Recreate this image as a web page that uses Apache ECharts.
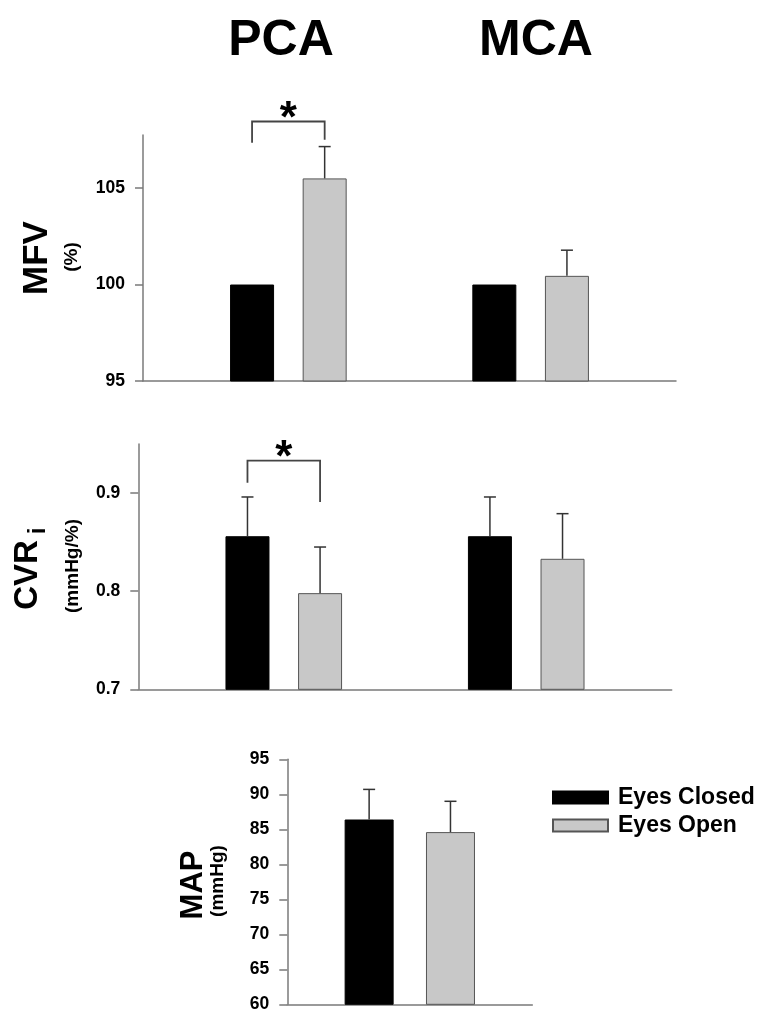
<!DOCTYPE html>
<html>
<head>
<meta charset="utf-8">
<script src="https://cdn.jsdelivr.net/npm/echarts@6/dist/echarts.min.js"></script>
<style>html,body{margin:0;padding:0;background:#fff;}#c{width:771px;height:1032px;}</style>
</head>
<body>
<div id="c"></div>
<script>
// ---------- data ----------
const categories = ['PCA', 'MCA'];
const seriesNames = ['Eyes Closed', 'Eyes Open'];

const mfvClosed = [100, 100];
const mfvClosedErr = [0, 0];
const mfvOpen = [105.5, 100.45];
const mfvOpenErr = [1.65, 1.33];
const mfvTicks = [95, 100, 105];

const cvrClosed = [0.856, 0.856];
const cvrClosedErr = [0.040, 0.040];
const cvrOpen = [0.798, 0.833];
const cvrOpenErr = [0.047, 0.046];
const cvrTicks = [0.7, 0.8, 0.9];

const mapCategories = ['MAP'];
const mapClosed = [86.4];
const mapClosedErr = [4.3];
const mapOpen = [84.6];
const mapOpenErr = [4.4];
const mapTicks = [60, 65, 70, 75, 80, 85, 90, 95];

// significance brackets: category, bracket level, left drop end, right drop end
const mfvSig = [{ cat: 'PCA', level: 108.45, leftEnd: 107.35, rightEnd: 107.5 }];
const cvrSig = [{ cat: 'PCA', level: 0.933, leftEnd: 0.9105, rightEnd: 0.891 }];

// ---------- layout helpers ----------
const SLOTS = 12;            // x axis slots (boundaryGap false)
const slotOf = [3, 8];       // slot index for each category
const FONT = '"Liberation Sans", Arial, sans-serif';
const AXIS_COLOR = '#7a7a7a';
const ERR_COLOR = '#333';
const GRAY = '#c8c8c8';

function slotAxisData() {
  const d = new Array(SLOTS).fill('');
  categories.forEach((c, i) => { d[slotOf[i]] = c; });
  return d;
}
function slotBarData(vals) {
  const d = new Array(SLOTS).fill(null);
  vals.forEach((v, i) => { d[slotOf[i]] = v; });
  return d;
}

function yAxisCfg(gi, min, max, ticks, fmt) {
  return {
    type: 'value', gridIndex: gi, min: min, max: max,
    splitLine: { show: false },
    axisLine: { show: true, lineStyle: { color: AXIS_COLOR, width: 1.5 } },
    axisTick: { show: true, length: 8, inside: false, customValues: ticks, lineStyle: { color: AXIS_COLOR, width: 1.5 } },
    axisLabel: { customValues: ticks, margin: 18, fontSize: 17.5, fontWeight: 'bold', color: '#000', fontFamily: FONT, formatter: fmt }
  };
}
function xAxisCfg(gi, data, boundaryGap) {
  return {
    type: 'category', gridIndex: gi, data: data, boundaryGap: boundaryGap,
    axisLine: { show: true, onZero: false, lineStyle: { color: AXIS_COLOR, width: 1.5 } },
    axisTick: { show: false }, axisLabel: { show: false }, splitLine: { show: false }
  };
}

function barSeries(name, gi, data, barWidth, barGap) {
  return {
    type: 'bar', name: name, xAxisIndex: gi, yAxisIndex: gi, data: data,
    barWidth: barWidth, barGap: barGap,
    itemStyle: name === seriesNames[0]
      ? { color: '#000', borderColor: '#000', borderWidth: 1 }
      : { color: GRAY, borderColor: '#555', borderWidth: 1 },
    silent: true, animation: false
  };
}

// error bars (upward only), offset of bar center within a group
function errSeries(gi, xs, vals, errs, offset) {
  const data = [];
  vals.forEach((v, i) => { if (errs[i] > 0) data.push([xs[i], v, errs[i]]); });
  return {
    type: 'custom', xAxisIndex: gi, yAxisIndex: gi, data: data, silent: true, animation: false, z: 5,
    renderItem: function (params, api) {
      const base = api.coord([api.value(0), api.value(1)]);
      const top = api.coord([api.value(0), api.value(1) + api.value(2)]);
      const x = base[0] + offset;
      return {
        type: 'group', children: [
          { type: 'line', shape: { x1: x, y1: base[1], x2: x, y2: top[1] }, style: { stroke: ERR_COLOR, lineWidth: 1.5 } },
          { type: 'line', shape: { x1: x - 6, y1: top[1], x2: x + 6, y2: top[1] }, style: { stroke: ERR_COLOR, lineWidth: 1.5 } }
        ]
      };
    }
  };
}

function sigSeries(gi, sig, offset) {
  const data = sig.map(s => [slotOf[categories.indexOf(s.cat)], s.level, s.leftEnd, s.rightEnd]);
  return {
    type: 'custom', xAxisIndex: gi, yAxisIndex: gi, data: data, silent: true, animation: false, clip: false, z: 6,
    renderItem: function (params, api) {
      const c = api.coord([api.value(0), api.value(1)]);
      const yl = api.coord([api.value(0), api.value(2)])[1];
      const yr = api.coord([api.value(0), api.value(3)])[1];
      const xl = c[0] - offset, xr = c[0] + offset;
      return {
        type: 'group', children: [
          { type: 'polyline', shape: { points: [[xl, yl], [xl, c[1]], [xr, c[1]], [xr, yr]] }, style: { stroke: '#444', lineWidth: 1.8, fill: null } },
          { type: 'text', style: { x: c[0], y: c[1] - 2, text: '*', fontSize: 44, fontWeight: 'bold', fontFamily: FONT, fill: '#000', align: 'center', verticalAlign: 'middle' } }
        ]
      };
    }
  };
}

// ---------- chart ----------
const chart = echarts.init(document.getElementById('c'), null, { renderer: 'canvas' });

const BW12 = 44, GAP12 = 0.65;
const OFF12 = (BW12 + BW12 * GAP12) / 2;
const BW3 = 49, GAP3 = 0.66;
const OFF3 = (BW3 + BW3 * GAP3) / 2;

const xsSlots = slotOf.slice();
const xsMap = mapCategories.map((c, i) => i);

function rotText(x, y, text, size, rot) {
  return {
    type: 'text', x: x, y: y, rotation: rot === undefined ? Math.PI / 2 : rot,
    style: { x: 0, y: 0, text: text, fontSize: size, fontWeight: 'bold', fontFamily: FONT, fill: '#000', align: 'center', verticalAlign: 'middle' }
  };
}

const option = {
  backgroundColor: '#fff',
  animation: false,
  title: [
    { text: 'PCA', left: 276, top: 11, textAlign: 'center', textStyle: { fontSize: 50, fontWeight: 'bold', fontFamily: FONT, color: '#000' } },
    { text: 'MCA', left: 531, top: 11, textAlign: 'center', textStyle: { fontSize: 50, fontWeight: 'bold', fontFamily: FONT, color: '#000' } }
  ],
  legend: {
    data: seriesNames, orient: 'vertical', left: 547, top: 781, itemWidth: 55, itemHeight: 12, itemGap: 5,
    selectedMode: false, icon: 'rect',
    textStyle: { fontSize: 23, fontWeight: 'bold', fontFamily: FONT, color: '#000', padding: [0, 0, 0, 5] }
  },
  grid: [
    { left: 143, right: 95, top: 135, bottom: 651 },
    { left: 138.3, right: 99.3, top: 444, bottom: 342.7 },
    { left: 287.3, right: 238.7, top: 759.3, bottom: 27.7 }
  ],
  xAxis: [
    xAxisCfg(0, slotAxisData(), false),
    xAxisCfg(1, slotAxisData(), false),
    xAxisCfg(2, mapCategories, true)
  ],
  yAxis: [
    yAxisCfg(0, 95, 107.75, mfvTicks, v => String(v)),
    yAxisCfg(1, 0.7, 0.95, cvrTicks, v => v.toFixed(1)),
    yAxisCfg(2, 60, 95, mapTicks, v => String(v))
  ],
  series: [
    barSeries(seriesNames[0], 0, slotBarData(mfvClosed), BW12, GAP12),
    barSeries(seriesNames[1], 0, slotBarData(mfvOpen), BW12, GAP12),
    errSeries(0, xsSlots, mfvClosed, mfvClosedErr, -OFF12),
    errSeries(0, xsSlots, mfvOpen, mfvOpenErr, OFF12),
    sigSeries(0, mfvSig, OFF12),

    barSeries(seriesNames[0], 1, slotBarData(cvrClosed), BW12, GAP12),
    barSeries(seriesNames[1], 1, slotBarData(cvrOpen), BW12, GAP12),
    errSeries(1, xsSlots, cvrClosed, cvrClosedErr, -OFF12),
    errSeries(1, xsSlots, cvrOpen, cvrOpenErr, OFF12),
    sigSeries(1, cvrSig, OFF12),

    barSeries(seriesNames[0], 2, mapClosed, BW3, GAP3),
    barSeries(seriesNames[1], 2, mapOpen, BW3, GAP3),
    errSeries(2, xsMap, mapClosed, mapClosedErr, -OFF3),
    errSeries(2, xsMap, mapOpen, mapOpenErr, OFF3)
  ],
  graphic: [
    rotText(37, 258, 'MFV', 35),
    rotText(72, 257, '(%)', 19),
    rotText(28, 575, 'CVR', 33),
    rotText(38, 531, 'i', 24),
    rotText(73, 566, '(mmHg/%)', 19),
    rotText(193, 885, 'MAP', 31),
    rotText(218, 881, '(mmHg)', 19)
  ]
};
chart.setOption(option);
</script>
</body>
</html>
